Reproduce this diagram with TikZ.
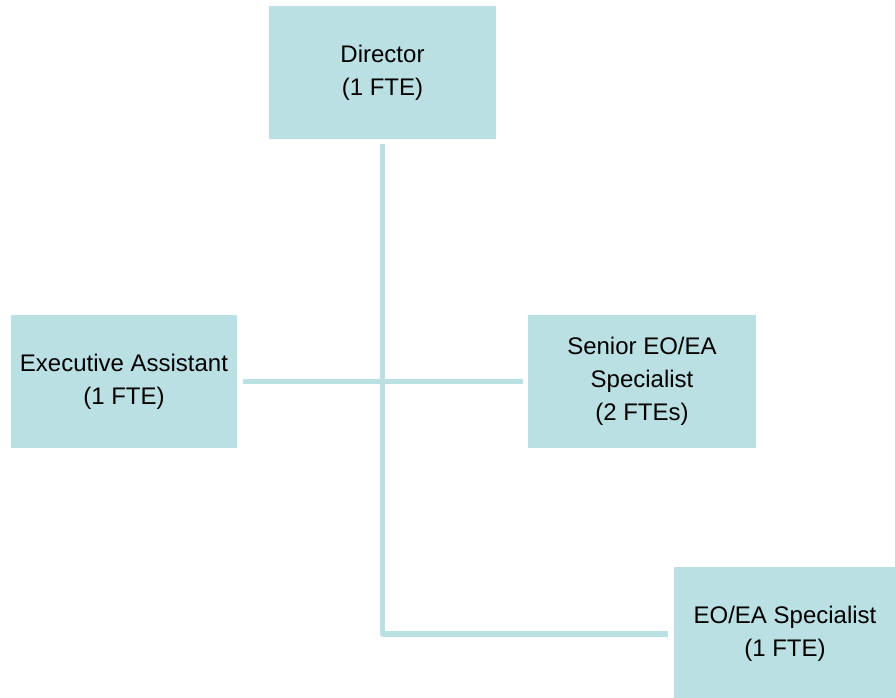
\documentclass[tikz,border=0pt]{standalone}
\usepackage{fontspec}
\setmainfont{Liberation Sans}
\definecolor{boxfill}{RGB}{187,224,227}
\tikzset{
  orgbox/.style={fill=boxfill, draw=none, inner sep=0pt, align=center,
    font=\fontsize{24}{33}\selectfont, text=black},
  conn/.style={draw=boxfill, line width=5.5pt, line join=round}
}
\begin{document}
\begin{tikzpicture}[x=1pt, y=-1pt]
  \clip (0,0) rectangle (895,697);
  \fill[white] (0,0) rectangle (895,697);

  \node[orgbox, minimum width=227pt, minimum height=133pt] (dir) at (382.5,72.5) {Director\\(1 FTE)};
  \node[orgbox, minimum width=226pt, minimum height=133pt] (ea) at (124,381.5) {Executive Assistant\\(1 FTE)};
  \node[orgbox, minimum width=228pt, minimum height=133pt] (sen) at (642,381.5) {Senior EO/EA\\Specialist\\(2 FTEs)};
  \node[orgbox, minimum width=222pt, minimum height=134pt] (spec) at (785,634) {EO/EA Specialist\\(1 FTE)};

  % reporting lines
  \draw[conn, shorten >=6pt] ([yshift=-5pt]dir.south) |- (spec.west);
  \draw[conn, shorten <=6pt, shorten >=5pt] (ea.east) -- (sen.west);
\end{tikzpicture}
\end{document}
